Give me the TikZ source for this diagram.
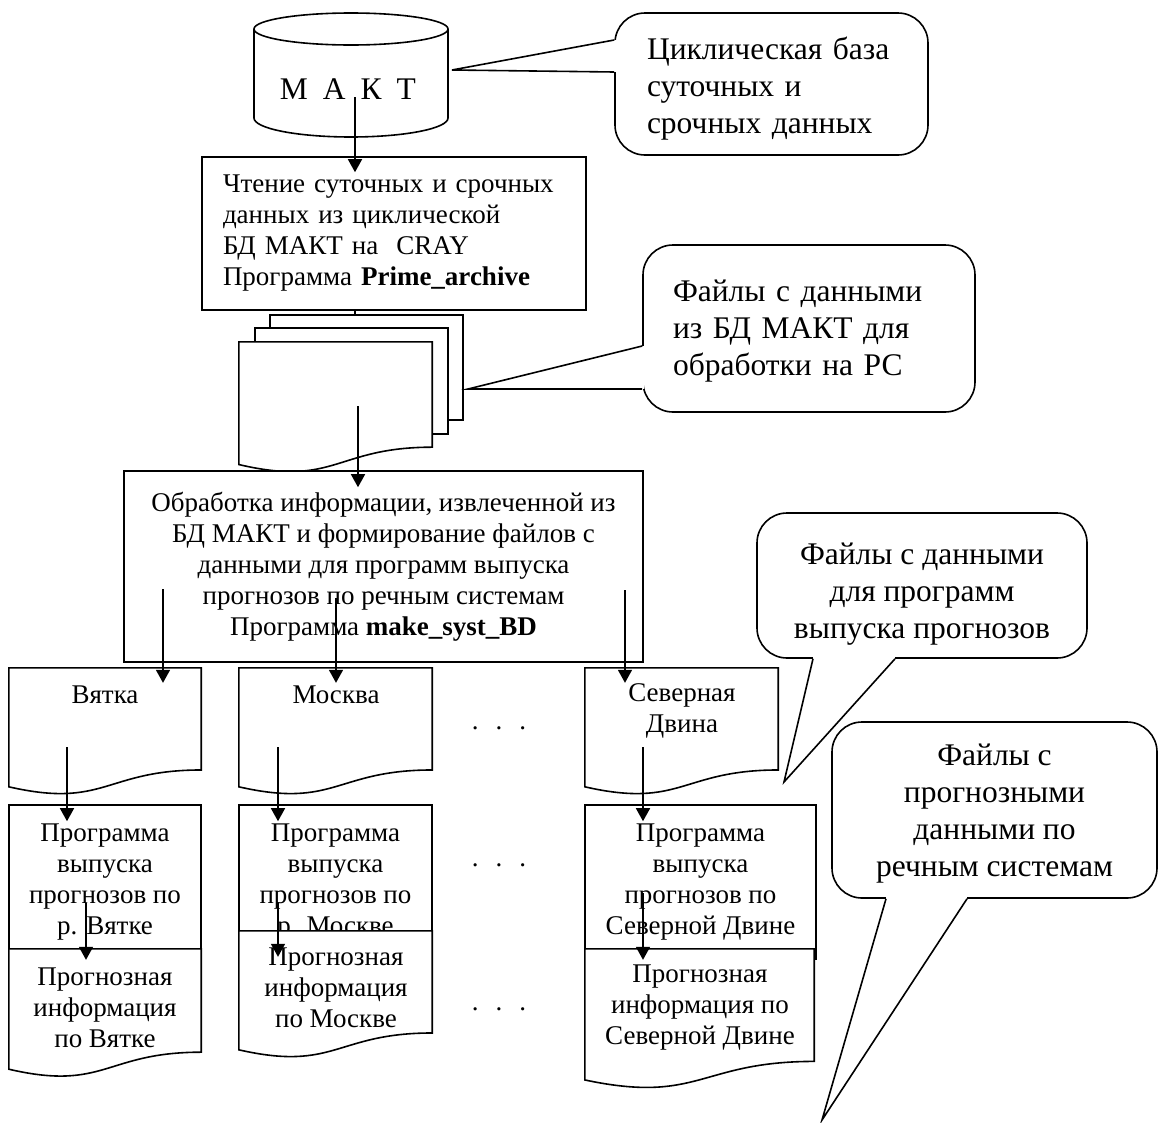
\documentclass[tikz,border=0pt]{standalone}
\usepackage{fontspec}
\setmainfont{Liberation Serif}
\usetikzlibrary{arrows.meta,calc}
\newcommand{\bodyfont}{\fontsize{27}{31}\selectfont}
\newcommand{\callfont}{\fontsize{31.5}{37}\selectfont}
\newcommand{\docpath}[1]{\draw[thickline, fill=white] (#1.north west) -- (#1.north east) -- ($(#1.north east)!0.802!(#1.south east)$) .. controls ($(#1.north)!0.802!(#1.south)$) and ($(#1.north)!1.1075!(#1.south)$) .. ($(#1.north west)!0.934!(#1.south west)$) -- cycle;}
\newcommand{\calltail}[3]{\fill[white] (#1) -- (#2) -- (#3) -- cycle;
	\draw[white, line width=3pt] (#2) -- (#3);
	\draw[thickline] (#2) -- (#1) -- (#3);}

\begin{document}
\begin{tikzpicture}[x=1pt, y=-1pt, every node/.style={font=\bodyfont},
	thickline/.style={line width=1.6pt},
	arr/.style={thickline, -{Triangle[length=13pt,width=14pt]}},
	procbox/.style={draw, thickline, fill=white, inner sep=0pt},
	docnode/.style={inner sep=0pt},
	callbox/.style={draw, thickline, fill=white, rounded corners=30pt, inner sep=0pt},
	calltext/.style={font=\callfont, inner sep=0pt}]
	\fill[white] (0,0) rectangle (1162,1122);
	\draw[thickline] (351,29) ellipse [x radius=97, y radius=16];
	\draw[thickline] (254,29) -- (254,118) arc[start angle=180, end angle=0, x radius=97, y radius=19] -- (448,29);
	\node[font=\callfont] (makt) at (348,89) {М\hspace{15pt}А\hspace{15pt}К\hspace{15pt}Т};

	\node[procbox, minimum width=384pt, minimum height=153pt, text width=342pt, align=left] (read) at (394,233.5) {Чтение суточных и срочных\\данных из циклической\\БД МАКТ на\ \ CRAY\\Программа \textbf{Prime\_archive}};

	\node[docnode, minimum width=193pt, minimum height=131pt] (files) at (335.5,407.5) {};
	\coordinate (fb) at ($(files.north east)!0.802!(files.south east)$);
	\coordinate (backtop) at ([yshift=27pt]files.north);
	\draw[thickline, fill=white] ([shift={(31,-27)}]files.north west) rectangle ([shift={(31,-27)}]fb);
	\draw[thickline, fill=white] ([shift={(16,-14)}]files.north west) rectangle ([shift={(16,-13)}]fb);
	\docpath{files}

	\node[procbox, minimum width=519pt, minimum height=191pt, align=center] (proc) at (383.5,566.5) {Обработка информации, извлеченной из\\БД МАКТ и формирование файлов с\\данными для программ выпуска\\прогнозов по речным системам\\Программа \textbf{make\_syst\_BD}};

	\node[docnode, minimum width=192pt, minimum height=127pt] (vyatka) at (105,731.5) {};
	\docpath{vyatka}
	\node (vyatkaT) at (105,695) {Вятка};
	\node[docnode, minimum width=193pt, minimum height=127pt] (moskva) at (335.5,731.5) {};
	\docpath{moskva}
	\node (moskvaT) at (336,695) {Москва};
	\node[docnode, minimum width=193pt, minimum height=127pt] (sevdv) at (681.5,731.5) {};
	\docpath{sevdv}
	\node[align=center] (sevdvT) at (682,711) {Северная\\Двина};

	\node[procbox, minimum width=192pt, minimum height=154pt, align=center] (progV) at (105,882) {Программа\\выпуска\\прогнозов по\\р. Вятке};
	\node[procbox, minimum width=193pt, minimum height=154pt, align=center] (progM) at (335.5,882) {Программа\\выпуска\\прогнозов по\\р. Москве};
	\node[procbox, minimum width=231pt, minimum height=154pt, align=center] (progS) at (700.5,882) {Программа\\выпуска\\прогнозов по\\Северной Двине};

	\node[docnode, minimum width=192pt, minimum height=128.5pt] (fcV) at (105,1013.25) {};
	\docpath{fcV}
	\node[align=center] (fcVT) at (105,1008) {Прогнозная\\информация\\по Вятке};
	\node[docnode, minimum width=193pt, minimum height=127pt] (fcM) at (335.5,994.5) {};
	\docpath{fcM}
	\node[align=center] (fcMT) at (336,988) {Прогнозная\\информация\\по Москве};
	\node[docnode, minimum width=229pt, minimum height=140pt] (fcS) at (699.5,1019) {};
	\docpath{fcS}
	\node[align=center] (fcST) at (700,1008) {Прогнозная\\информация по\\Северной Двине};

	\foreach \y/\n in {729/1,866/2,1010/3}
		\node[anchor=base] (dots\n) at (499,\y) {.\hspace{17pt}.\hspace{17pt}.};

	\node[callbox, minimum width=313pt, minimum height=142pt] (cbase) at (771.5,84) {};
	\node[callbox, minimum width=332pt, minimum height=167pt] (cfiles) at (809,328.5) {};
	\node[callbox, minimum width=330pt, minimum height=145pt] (csyst) at (922,585.5) {};
	\node[callbox, minimum width=325pt, minimum height=176pt] (cfcst) at (994.5,810) {};
	\coordinate (cbaseTip) at (452,70);
	\coordinate (cfilesTip) at (468,389);
	\coordinate (csystTip) at (784,782);
	\coordinate (cfcstTip) at (822,1120);
	\calltail{cbaseTip}{cbase.west |- 0,40}{cbase.west |- 0,72}
	\calltail{cfilesTip}{cfiles.west |- 0,346}{cfiles.west |- 0,389}
	\calltail{csystTip}{813,0 |- csyst.south}{895,0 |- csyst.south}
	\calltail{cfcstTip}{886,0 |- cfcst.south}{967,0 |- cfcst.south}
	\node[calltext, text width=249pt, align=left] (cbaseT) at (771.5,89) {Циклическая база\\суточных и\\срочных данных};
	\node[calltext, text width=272pt, align=left] (cfilesT) at (809,331.5) {Файлы с данными\\из БД МАКТ для\\обработки на РС};
	\node[calltext, align=center] (csystT) at (922,594.5) {Файлы с данными\\для программ\\выпуска прогнозов};
	\node[calltext, align=center] (cfcstT) at (994.5,814) {Файлы с\\прогнозными\\данными по\\речным системам};

	\coordinate (maktS) at (355,97);
	\coordinate (filesS) at (358,406);
	\coordinate (procV) at (163,589);
	\coordinate (procM) at (336,598);
	\coordinate (procS) at (625,590);
	\coordinate (vyatkaS) at (67,747);
	\coordinate (moskvaS) at (278,747);
	\coordinate (sevdvS) at (643,747);
	\coordinate (progVS) at (86,903);
	\coordinate (progMS) at (278,903);
	\coordinate (progSS) at (643,893);
	\draw[arr, shorten >=-16pt] (maktS) -- (maktS |- read.north);
	\draw[thickline] (maktS |- read.south) -- (maktS |- backtop);
	\draw[arr, shorten >=-17pt] (filesS) -- (filesS |- proc.north);
	\draw[arr, shorten >=-15pt] (procV) -- (procV |- vyatka.north);
	\draw[arr, shorten >=-15pt] (procM) -- (procM |- moskva.north);
	\draw[arr, shorten >=-15pt] (procS) -- (procS |- sevdv.north);
	\draw[arr, shorten >=-17pt] (vyatkaS) -- (vyatkaS |- progV.north);
	\draw[arr, shorten >=-17pt] (moskvaS) -- (moskvaS |- progM.north);
	\draw[arr, shorten >=-17pt] (sevdvS) -- (sevdvS |- progS.north);
	\draw[arr, shorten >=-11pt] (progVS) -- (progVS |- fcV.north);
	\draw[arr, shorten >=-26pt] (progMS) -- (progMS |- fcM.north);
	\draw[arr, shorten >=-11pt] (progSS) -- (progSS |- fcS.north);
\end{tikzpicture}
\end{document}
